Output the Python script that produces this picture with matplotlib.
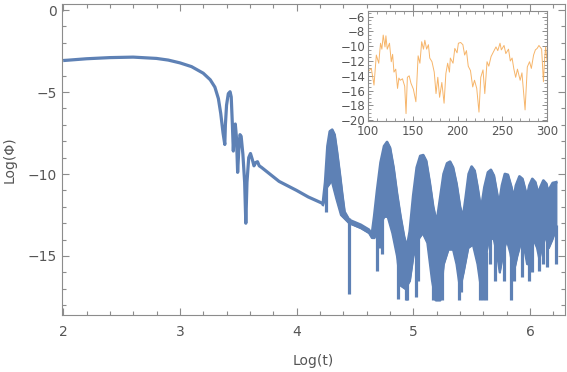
import numpy as np
import matplotlib
matplotlib.use("Agg")
import matplotlib.pyplot as plt
from matplotlib.ticker import MultipleLocator

# smooth part of the main curve: Log(t), Log(Phi)
x_main = [2.00, 2.20, 2.40, 2.60, 2.80, 2.90, 3.00, 3.10, 3.20, 3.26, 3.30, 3.33, 3.35,
          3.37, 3.385, 3.39, 3.40, 3.415, 3.43, 3.44, 3.45, 3.458, 3.465, 3.475, 3.485,
          3.495, 3.505, 3.515, 3.525, 3.54, 3.555, 3.565, 3.575, 3.59, 3.605, 3.62, 3.635,
          3.65, 3.665, 3.68, 3.70, 3.85, 4.00, 4.10, 4.225]
y_main = [-3.08, -2.97, -2.90, -2.87, -2.95, -3.05, -3.22, -3.45, -3.85, -4.25, -4.70, -5.40, -6.30,
          -7.50, -8.20, -7.00, -5.80, -5.10, -4.98, -5.30, -7.00, -8.60, -7.50, -6.95, -7.80,
          -9.90, -8.50, -7.60, -7.70, -8.80, -10.50, -13.00, -10.50, -9.00, -8.75, -9.10, -9.50,
          -9.30, -9.25, -9.50, -9.60, -10.45, -11.00, -11.40, -11.80]

# oscillating part: upper envelope
x_up = [4.225, 4.245, 4.265, 4.285, 4.305, 4.325, 4.345, 4.37, 4.39, 4.41, 4.45, 4.55, 4.62,
        4.645, 4.665, 4.69, 4.72, 4.75, 4.775, 4.80, 4.83, 4.86, 4.89, 4.92, 4.945, 4.97,
        5.00, 5.03, 5.06, 5.085, 5.11, 5.14, 5.17, 5.20, 5.23, 5.26, 5.29, 5.315, 5.34,
        5.37, 5.40, 5.425, 5.45, 5.475, 5.50, 5.525, 5.55, 5.58, 5.61, 5.64, 5.665, 5.69,
        5.72, 5.735, 5.76, 5.785, 5.81, 5.84, 5.86, 5.88, 5.91, 5.935, 5.96, 5.975, 5.995,
        6.02, 6.045, 6.07, 6.09, 6.115, 6.14, 6.155, 6.175, 6.195, 6.225]
y_up = [-11.8, -10.5, -8.3, -7.4, -7.3, -7.6, -8.6, -10.0, -11.2, -12.3, -12.8, -13.1, -13.4,
        -13.7, -12.6, -11.0, -9.3, -8.3, -8.05, -8.4, -9.6, -11.2, -12.6, -13.8, -14.5, -13.5,
        -11.3, -9.6, -8.9, -8.85, -9.2, -10.5, -12.0, -13.0, -11.5, -10.0, -9.35, -9.25, -9.6,
        -10.6, -12.0, -12.7, -11.4, -10.0, -9.55, -9.8, -10.8, -12.2, -10.8, -9.9, -9.75, -10.1,
        -11.3, -11.9, -10.7, -10.0, -10.05, -10.8, -11.5, -10.7, -10.15, -10.3, -11.0, -11.4, -10.7,
        -10.3, -10.5, -11.2, -10.8, -10.4, -10.6, -11.1, -10.8, -10.55, -10.5]

# oscillating part: lower envelope
x_lo = [4.225, 4.26, 4.30, 4.34, 4.38, 4.45, 4.55, 4.62, 4.645, 4.665, 4.70, 4.75, 4.78,
        4.82, 4.86, 4.89, 4.93, 4.97, 5.00, 5.04, 5.08, 5.12, 5.16, 5.19, 5.23, 5.26, 5.30,
        5.34, 5.37, 5.40, 5.43, 5.47, 5.51, 5.55, 5.58, 5.61, 5.65, 5.69, 5.72, 5.74, 5.77,
        5.80, 5.83, 5.86, 5.89, 5.92, 5.95, 5.975, 6.00, 6.03, 6.06, 6.08, 6.10, 6.13, 6.16,
        6.19, 6.225]
y_lo = [-11.9, -10.8, -10.4, -11.5, -12.5, -13.0, -13.3, -13.6, -13.9, -13.9, -13.3, -12.6, -12.6,
        -13.6, -15.0, -16.8, -17.0, -16.5, -15.0, -14.0, -13.6, -14.2, -16.5, -17.7, -17.7, -15.5, -14.6,
        -14.6, -15.5, -17.0, -16.0, -14.5, -14.3, -15.5, -17.0, -15.5, -13.8, -14.0, -15.0, -16.0, -14.8,
        -14.0, -14.8, -16.0, -15.0, -14.2, -14.5, -15.5, -15.0, -14.0, -14.5, -15.2, -14.5, -13.8, -14.5,
        -14.0, -13.3]

# deep downward spikes of the oscillation
spike_x = [4.25, 4.445, 4.69, 4.705, 4.73, 4.87, 4.885, 4.935, 4.95, 5.02, 5.04, 5.17, 5.20, 5.25,
           5.39, 5.41, 5.57, 5.60, 5.62, 5.66, 5.70, 5.78, 5.84, 5.86, 5.935, 5.99, 6.02, 6.08,
           6.11, 6.15, 6.22]
spike_y = [-12.3, -17.3, -15.9, -14.5, -14.9, -17.6, -16.5, -17.7, -17.7, -17.5, -16.5, -17.7, -17.7,
           -17.7, -17.7, -17.2, -17.7, -17.7, -17.7, -15.5, -16.5, -16.5, -17.7, -16.5, -16.3, -16.5,
           -16.0, -15.9, -15.5, -15.7, -15.5]

# inset: t, Log(Phi)
t_in = [100, 103.7, 106.7, 109.3, 112, 114, 115.5, 117, 119, 120, 121.5, 124, 126, 127.5, 129,
        131, 133, 134.5, 136, 138.5, 141, 142.5, 144, 146, 148, 150.7, 153.5, 156, 158, 160,
        162, 163.5, 165.5, 167.5, 169, 171.5, 174, 176, 178, 180, 182.5, 185, 187, 189, 191,
        192, 195, 197, 199.5, 201, 203.5, 206, 208, 210, 212, 214.5, 217, 219, 221.5, 224,
        226, 228.5, 230.5, 233, 235, 237.5, 240, 243, 245, 247.5, 249, 252, 254, 257, 259,
        261, 263, 265, 267, 270, 272, 275.5, 278, 280.5, 282.5, 285, 287, 289, 291, 294,
        296, 297.5, 298.5, 300]
y_in = [-13.45, -13.0, -15.25, -11.2, -12.3, -9.6, -10.4, -8.5, -10.1, -8.6, -10.4, -9.6, -12.1,
        -11.1, -13.5, -13.1, -15.7, -14.3, -14.6, -14.4, -15.4, -19.1, -14.2, -14.0, -15.0, -15.8,
        -17.5, -11.3, -12.3, -9.4, -10.4, -9.2, -10.4, -9.8, -11.6, -12.1, -13.5, -16.4, -14.2,
        -16.9, -14.9, -17.7, -13.7, -12.3, -13.5, -11.6, -12.3, -10.3, -10.9, -9.6, -9.5, -9.8,
        -11.2, -10.6, -12.7, -13.3, -15.5, -14.6, -15.7, -18.9, -14.2, -13.2, -16.4, -12.1, -12.7,
        -11.4, -10.8, -10.1, -10.6, -9.6, -10.5, -9.9, -11.0, -10.4, -12.0, -11.6, -13.1, -14.2,
        -13.1, -14.6, -13.6, -18.6, -12.8, -12.1, -13.0, -11.2, -10.5, -10.3, -9.9, -10.4, -14.8,
        -11.4, -10.1, -12.0]

blue = "#5E81B5"
orange = "#F5A850"
gray = "#8c8c8c"
txt = "#555555"

fig = plt.figure(figsize=(5.67, 3.72), dpi=100)
ax = fig.add_axes([62 / 567, 1 - 315 / 372, 503 / 567, 311 / 372])

ax.plot(x_main, y_main, color=blue, lw=2.3, solid_joinstyle="round", solid_capstyle="butt")

# band of the fast oscillation, between the two envelopes
xb = np.union1d(x_up, x_lo)
ax.fill_between(xb, np.interp(xb, x_up, y_up), np.interp(xb, x_lo, y_lo),
                color=blue, lw=1.0, ec=blue)
ax.plot(x_up, y_up, color=blue, lw=2.0, solid_joinstyle="round")
ax.plot(x_lo, y_lo, color=blue, lw=1.5, solid_joinstyle="round")
ax.vlines(spike_x, np.interp(spike_x, x_lo, y_lo) + 0.3, spike_y, color=blue, lw=2.3)

ax.set_xlim(1.99, 6.30)
ax.set_ylim(-18.6, 0.37)
ax.xaxis.set_major_locator(MultipleLocator(1))
ax.xaxis.set_minor_locator(MultipleLocator(0.2))
ax.yaxis.set_major_locator(MultipleLocator(5))
ax.yaxis.set_minor_locator(MultipleLocator(1))
ax.tick_params(which="both", direction="in", top=True, right=True, color=gray,
               labelcolor=txt, labelsize=10)
ax.tick_params(which="major", length=5, width=0.8)
ax.tick_params(which="minor", length=3, width=0.8)
ax.tick_params(axis="x", pad=7)
for s in ax.spines.values():
    s.set_color(gray)
ax.set_xlabel("Log(t)", color=txt, fontsize=10, labelpad=11)
ax.set_ylabel("Log(Φ)", color=txt, fontsize=10, labelpad=8)

# inset
axi = fig.add_axes([368 / 567, 1 - 121 / 372, 179 / 567, 110 / 372])
axi.plot(t_in, y_in, color=orange, lw=0.7, alpha=0.85)
axi.set_xlim(100, 300)
axi.set_ylim(-20.1, -5.25)
axi.xaxis.set_major_locator(MultipleLocator(50))
axi.xaxis.set_minor_locator(MultipleLocator(10))
axi.yaxis.set_major_locator(MultipleLocator(2))
axi.yaxis.set_minor_locator(MultipleLocator(0.5))
axi.tick_params(which="both", direction="in", top=True, right=True, color=gray,
                labelcolor=txt, labelsize=8.5, pad=2)
axi.tick_params(axis="x", pad=3)
axi.tick_params(which="major", length=3.5, width=0.7)
axi.tick_params(which="minor", length=2, width=0.6)
for s in axi.spines.values():
    s.set_color(gray)

fig.savefig("out.png", dpi=100)
